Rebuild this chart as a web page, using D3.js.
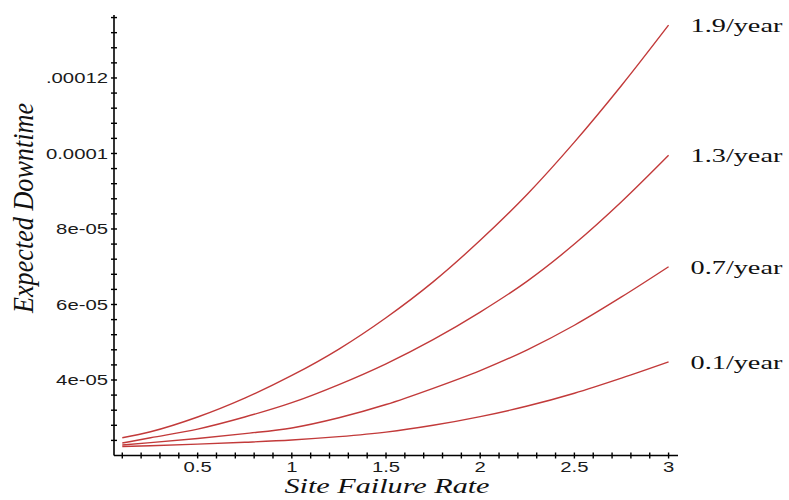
<!DOCTYPE html>
<html>
<head>
<meta charset="utf-8">
<script src="https://cdn.jsdelivr.net/npm/d3@7"></script>
<style>
  html, body { margin: 0; padding: 0; background: #fff; }
  svg { display: block; }
</style>
</head>
<body>
<svg id="chart" width="789" height="500"></svg>
<script>
// ---- data ----
const siteFailureRate = [0.1, 0.25, 0.5, 0.75, 1.0, 1.25, 1.5, 1.75, 2.0, 2.25, 2.5, 2.75, 3.0];
const downtime19 = [2.47e-5, 2.63e-5, 3.02e-5, 3.52e-5, 4.12e-5, 4.82e-5, 5.65e-5, 6.60e-5, 7.70e-5, 8.92e-5, 10.30e-5, 11.80e-5, 13.40e-5];
const downtime13 = [2.33e-5, 2.47e-5, 2.70e-5, 3.02e-5, 3.40e-5, 3.88e-5, 4.43e-5, 5.07e-5, 5.80e-5, 6.62e-5, 7.60e-5, 8.72e-5, 9.95e-5];
const downtime07 = [2.28e-5, 2.34e-5, 2.45e-5, 2.58e-5, 2.73e-5, 3.00e-5, 3.35e-5, 3.78e-5, 4.25e-5, 4.80e-5, 5.45e-5, 6.20e-5, 7.00e-5];
const downtime01 = [2.24e-5, 2.26e-5, 2.30e-5, 2.35e-5, 2.41e-5, 2.50e-5, 2.62e-5, 2.80e-5, 3.03e-5, 3.31e-5, 3.65e-5, 4.05e-5, 4.48e-5];
const seriesLabels = ["1.9/year", "1.3/year", "0.7/year", "0.1/year"];
const xTickValues = [0.5, 1, 1.5, 2, 2.5, 3];
const xTickLabels = ["0.5", "1", "1.5", "2", "2.5", "3"];
const yTickValues = [4e-5, 6e-5, 8e-5, 1e-4, 1.2e-4];
const yTickLabels = ["4e-05", "6e-05", "8e-05", "0.0001", ".00012"];
const xTitle = "Site Failure Rate";
const yTitle = "Expected Downtime";

const seriesValues = [downtime19, downtime13, downtime07, downtime01];

(function () {
// ---- layout ----
const svg = d3.select("#chart");
const pLeft = 114, pRight = 678, pTop = 15, pBottom = 455.5;
const x = d3.scaleLinear().domain([0.056, 3.05]).range([pLeft, pRight]);
const y = d3.scaleLinear().domain([2e-5, 1.3668e-4]).range([pBottom, pTop]);
const sx = 1.45; // horizontal stretch of the reference's text
const lineColor = "#c23a3a";

// ---- axes ----
const axes = svg.append("g").attr("stroke", "#000").attr("stroke-width", 1.6);
axes.append("line").attr("x1", pLeft).attr("x2", pLeft).attr("y1", pTop).attr("y2", pBottom);
axes.append("line").attr("x1", pLeft).attr("x2", pRight).attr("y1", pBottom).attr("y2", pBottom);

// x ticks every 0.1
const xMinor = d3.range(1, 31).map(i => i / 10);
axes.selectAll(".xt").data(xMinor).join("line")
  .attr("x1", d => x(d)).attr("x2", d => x(d))
  .attr("y1", pBottom - 3).attr("y2", pBottom + 3)
  .attr("stroke-width", 1.4);

// y ticks every 4e-6
const yMinor = d3.range(0, 30).map(i => 2e-5 + i * 4e-6).filter(v => v > 2.1e-5 && v < 1.37e-4);
axes.selectAll(".yt").data(yMinor).join("line")
  .attr("x1", pLeft - 3).attr("x2", pLeft + 3)
  .attr("y1", d => y(d)).attr("y2", d => y(d))
  .attr("stroke-width", 1.4);

// tick labels
const tickFont = "'Liberation Sans', Arial, sans-serif";
svg.append("g").selectAll("text").data(xTickValues).join("text")
  .attr("transform", d => `translate(${x(d)},472) scale(${sx},1)`)
  .attr("text-anchor", "middle")
  .attr("font-family", tickFont).attr("font-size", 14).attr("fill", "#1a1a1a")
  .text((d, i) => xTickLabels[i]);

svg.append("g").selectAll("text").data(yTickValues).join("text")
  .attr("transform", d => `translate(108,${y(d)}) scale(${sx},1)`)
  .attr("text-anchor", "end").attr("dy", "0.36em")
  .attr("font-family", tickFont).attr("font-size", 14).attr("fill", "#1a1a1a")
  .text((d, i) => yTickLabels[i]);

// axis titles
svg.append("text")
  .attr("x", 387).attr("y", 493)
  .attr("text-anchor", "middle")
  .attr("font-family", "'Liberation Serif', 'Times New Roman', serif")
  .attr("font-style", "italic").attr("font-size", 20).attr("fill", "#111")
  .attr("textLength", 205).attr("lengthAdjust", "spacingAndGlyphs")
  .text(xTitle);

svg.append("text")
  .attr("transform", `translate(33,208) scale(${sx},1) rotate(-90)`)
  .attr("text-anchor", "middle")
  .attr("font-family", "'Liberation Serif', 'Times New Roman', serif")
  .attr("font-style", "italic").attr("font-size", 20).attr("fill", "#111")
  .attr("textLength", 210).attr("lengthAdjust", "spacingAndGlyphs")
  .text(yTitle);

// ---- curves ----
const line = d3.line()
  .x((d, i) => x(siteFailureRate[i]))
  .y(d => y(d))
  .curve(d3.curveMonotoneX);

svg.append("g").selectAll("path").data(seriesValues).join("path")
  .attr("d", d => line(d))
  .attr("fill", "none")
  .attr("stroke", lineColor)
  .attr("stroke-width", 1.4);

// series labels at line ends
svg.append("g").selectAll("text").data(seriesValues).join("text")
  .attr("transform", d => `translate(${x(siteFailureRate[siteFailureRate.length - 1]) + 22},${y(d[d.length - 1])}) scale(${sx},1)`)
  .attr("dy", "0.35em")
  .attr("font-family", "'Liberation Serif', 'Times New Roman', serif")
  .attr("font-size", 19.5).attr("fill", "#111")
  .text((d, i) => seriesLabels[i]);
})();
</script>
</body>
</html>
